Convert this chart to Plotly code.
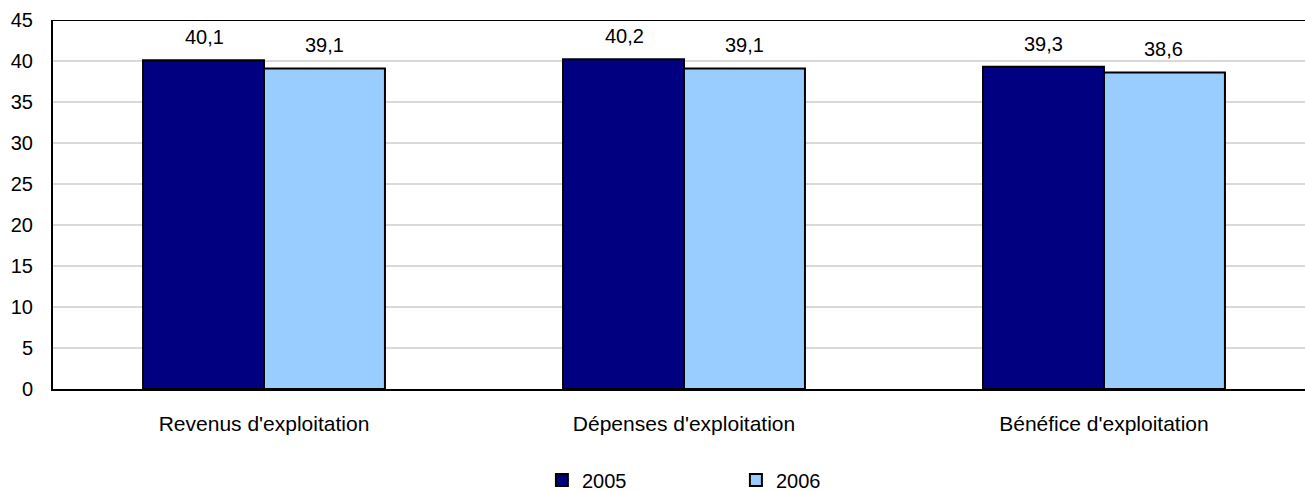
import plotly.graph_objects as go

categories = ["Revenus d'exploitation", "Dépenses d'exploitation", "Bénéfice d'exploitation"]
series_names = ["2005", "2006"]
values_2005 = [40.1, 40.2, 39.3]
values_2006 = [39.1, 39.1, 38.6]
colors = ["#000080", "#99CCFF"]
y_ticks = [0, 5, 10, 15, 20, 25, 30, 35, 40, 45]

font_family = "Liberation Sans, Arial, Helvetica, sans-serif"
FS = 20

fig = go.Figure()
for name, vals, col in zip(series_names, [values_2005, values_2006], colors):
    fig.add_trace(go.Bar(
        x=categories, y=vals, name=name,
        marker=dict(color=col, line=dict(color="#000000", width=2)),
    ))

# value labels above bars
for vals, shift in zip([values_2005, values_2006], [-60, 60]):
    for c, v in zip(categories, vals):
        fig.add_annotation(
            x=c, y=v, xref="x", yref="y", text=f"{v:.1f}".replace(".", ","),
            showarrow=False, xshift=shift, yshift=10, yanchor="bottom",
            font=dict(size=FS, color="#000000", family=font_family),
        )

fig.update_layout(
    width=1305, height=491,
    margin=dict(l=53, r=0, t=20, b=102, autoexpand=False),
    paper_bgcolor="white", plot_bgcolor="white",
    barmode="group", bargap=0.424, bargroupgap=0,
    font=dict(family=font_family, size=FS, color="#000000"),
    showlegend=True,
    legend=dict(
        orientation="h", x=0.3905, xanchor="left", y=-0.2466, yref="paper", yanchor="middle",
        entrywidth=149, entrywidthmode="pixels",
        font=dict(size=FS, family=font_family, color="#000000"), itemwidth=30,
    ),
    xaxis=dict(
        range=[-0.5024, 2.4786],
        showgrid=False, showline=True, linecolor="#000000", linewidth=2,
        ticks="", ticklabelstandoff=15, automargin=False,
        tickfont=dict(size=21, family=font_family, color="#000000"),
    ),
    yaxis=dict(
        range=[0, 45], tickvals=y_ticks, showgrid=True, gridcolor="#D9D9D9", gridwidth=2,
        showline=True, linecolor="#000000", linewidth=2, ticks="", ticklabelstandoff=14,
        zeroline=False, automargin=False,
        tickfont=dict(size=FS, family=font_family, color="#000000"),
    ),
)
fig.add_shape(type="line", xref="paper", yref="y", x0=0, x1=1, y0=45, y1=45,
              line=dict(color="#000000", width=2))

fig.write_html("out.html", config={"displayModeBar": False},
               post_script="document.body.style.margin='0';")
